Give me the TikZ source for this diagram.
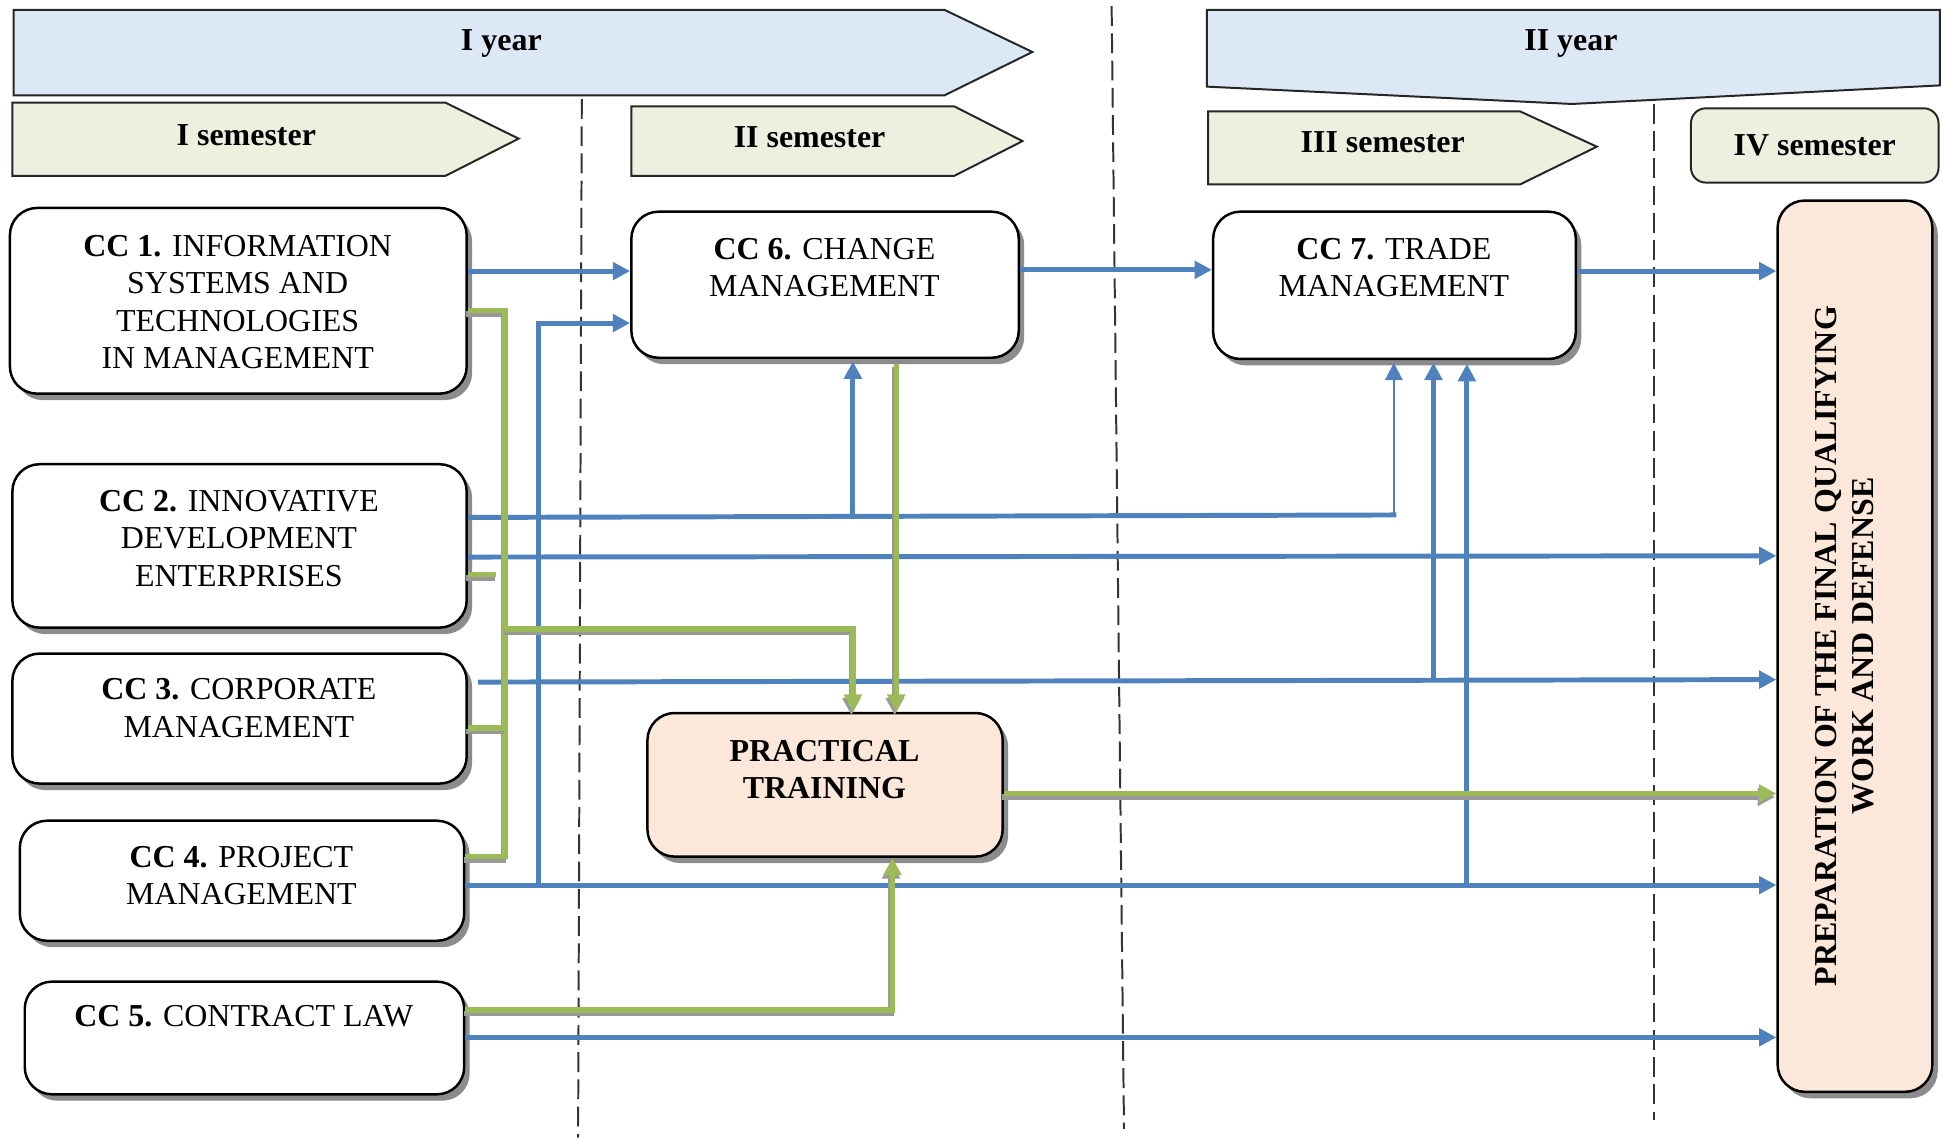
\documentclass[tikz,border=0pt]{standalone}
\usepackage{fontspec}
\setmainfont{Liberation Serif}
\usetikzlibrary{arrows.meta,shadows,calc}
\definecolor{lnblue}{RGB}{79,129,189}
\definecolor{lngreen}{RGB}{155,187,89}
\definecolor{yearfill}{RGB}{220,232,245}
\definecolor{semfill}{RGB}{235,241,222}
\definecolor{peach}{RGB}{252,232,218}
\begin{document}
\begin{tikzpicture}[x=0.5pt,y=-0.5pt, font=\fontsize{12.9}{15}\selectfont,
 box/.style={draw=black, line width=1pt, rounded corners=11pt, fill=white, drop shadow={shadow xshift=2.2pt, shadow yshift=-2.6pt, fill=black!45, opacity=1}, inner sep=0pt},
 lbl/.style={align=center, inner sep=0pt},
 banner/.style={draw=black!85, line width=0.8pt},
 vline/.style={draw=black!80, line width=0.8pt, dash pattern=on 8pt off 3pt},
 bl/.style={draw=lnblue, line width=2pt},
 ba/.style={bl, -{Triangle[length=7pt,width=7pt]}},
 gl/.style={draw=lngreen, line width=2.2pt, preaction={draw=black!40, line width=2.2pt, transform canvas={shift={(-0.6pt,-1.4pt)}}}},
 ga/.style={gl, -{Triangle[length=7pt,width=7pt]}},
]
\useasboundingbox (0,0) rectangle (1568,919);

% dashed separators
\draw[vline] (470,80) -- (467,919);
\draw[vline] (898,5) -- (908,912);
\draw[vline] (1336,84) -- (1336,905);

% year banners
\draw[banner, fill=yearfill] (11,8) -- (763,8) -- (834,42) -- (763,77) -- (11,77) -- cycle;
\node[lbl] (y1) at (405,35) {\bfseries I year};
\draw[banner, fill=yearfill] (975,8) -- (1567,8) -- (1567,69) -- (1270,84) -- (975,70) -- cycle;
\node[lbl] (y2) at (1269,35) {\bfseries II year};

% semester banners
\draw[banner, fill=semfill] (10,83) -- (360,83) -- (419,112) -- (360,142) -- (10,142) -- cycle;
\node[lbl] (s1) at (199,109) {\bfseries I semester};
\draw[banner, fill=semfill] (510,86) -- (771,86) -- (826,114) -- (771,142) -- (510,142) -- cycle;
\node[lbl] (s2) at (654,111) {\bfseries II semester};
\draw[banner, fill=semfill] (976,90) -- (1228,90) -- (1290,118.5) -- (1228,149) -- (976,149) -- cycle;
\node[lbl] (s3) at (1117,115) {\bfseries III semester};
\node[banner, fill=semfill, rounded corners=6pt, minimum width=100pt, minimum height=30pt, inner sep=0pt] (s4) at (1466,117.5) {\bfseries IV semester};

% boxes
\node[box, minimum width=184.5pt, minimum height=75pt] (cc1) at (192.5,243) {};
\node[lbl] (cc1t) at (192,244) {\textbf{CC 1.} INFORMATION\\SYSTEMS AND\\TECHNOLOGIES\\IN MANAGEMENT};
\node[box, minimum width=183.5pt, minimum height=66pt] (cc2) at (193.5,441) {};
\node[lbl] (cc2t) at (193,435) {\textbf{CC 2.} INNOVATIVE\\DEVELOPMENT\\ENTERPRISES};
\node[box, minimum width=183.5pt, minimum height=52.5pt] (cc3) at (193.5,580.5) {};
\node[lbl] (cc3t) at (193,572) {\textbf{CC 3.} CORPORATE\\MANAGEMENT};
\node[box, minimum width=179.5pt, minimum height=48.5pt] (cc4) at (195.5,711.5) {};
\node[lbl] (cc4t) at (195,707) {\textbf{CC 4.} PROJECT\\MANAGEMENT};
\node[box, minimum width=177.5pt, minimum height=45.5pt] (cc5) at (197.5,838.5) {};
\node[lbl] (cc5t) at (197,821) {\textbf{CC 5.} CONTRACT LAW};
\node[box, minimum width=156.5pt, minimum height=59pt] (cc6) at (666.5,230) {};
\node[lbl] (cc6t) at (666,216) {\textbf{CC 6.} CHANGE\\MANAGEMENT};
\node[box, minimum width=146.5pt, minimum height=59.5pt] (cc7) at (1126.5,230.5) {};
\node[lbl] (cc7t) at (1126,216) {\textbf{CC 7.} TRADE\\MANAGEMENT};
\node[box, fill=peach, minimum width=143.5pt, minimum height=58pt] (pt) at (666.5,634) {};
\node[lbl] (ptt) at (666,621.5) {\bfseries PRACTICAL\\\bfseries TRAINING};
\node[box, fill=peach, minimum width=62.5pt, minimum height=360pt] (fin) at (1498.5,522) {};
\node[lbl, rotate=90] (fint) at (1490,522) {\bfseries PREPARATION OF THE FINAL QUALIFYING\\\bfseries WORK AND DEFENSE};

% blue connectors
\draw[ba] (cc1.east |- 0,219) -- (cc6.west |- 0,219);
\draw[ba] (cc6.east |- 0,218) -- (cc7.west |- 0,218);
\draw[ba] (cc7.east |- 0,219) -- (fin.west |- 0,219);
\draw[ba] (cc4.east |- 0,715) -- (fin.west |- 0,715);
\coordinate (j4a) at (435,715);
\draw[ba] (j4a) |- (cc6.west |- 0,261);
\coordinate (j4b) at (1185,715);
\draw[ba, shorten >=1.5pt] (j4b) -- (j4b |- cc7.south);
\coordinate (j2) at (1128,416);
\draw[bl] (cc2.east |- 0,418) -- (j2);
\coordinate (j2a) at (689,417);
\draw[ba, shorten >=1pt] (j2a) -- (j2a |- cc6.south);
\coordinate (j2b) at (1126,416);
\draw[draw=lnblue, line width=0.8pt, -{Triangle[length=7pt,width=7pt]}, shorten >=1pt] (j2b) -- (j2b |- cc7.south);
\draw[ba] (cc2.east |- 0,450) -- (fin.west |- 0,449);
\draw[ba] ([xshift=4pt]cc3.east |- 0,551) -- (fin.west |- 0,549);
\coordinate (j3) at (1158,549);
\draw[ba, shorten >=1pt] (j3) -- (j3 |- cc7.south);
\draw[ba] (cc5.east |- 0,838) -- (fin.west |- 0,838);

% green connectors
\coordinate (gv1) at (408,251);
\coordinate (gv4) at (408,692);
\draw[gl] (cc1.east |- gv1) -- (gv1) -- (gv4) -- (cc4.east |- gv4);
\draw[gl] (cc2.east |- 0,464) -- (401,464);
\draw[gl] (cc3.east |- 0,588) -- (408,588);
\coordinate (g2) at (408,508);
\draw[ga] (g2) -| (689,0 |- pt.north);
\draw[ga] ([yshift=-2pt]724,0 |- cc6.south) -- (724,0 |- pt.north);
\draw[ga] (cc5.east |- 0,816) -| (721,0 |- pt.south);
\draw[ga] (pt.east |- 0,641) -- (fin.west |- 0,641);
\end{tikzpicture}
\end{document}
